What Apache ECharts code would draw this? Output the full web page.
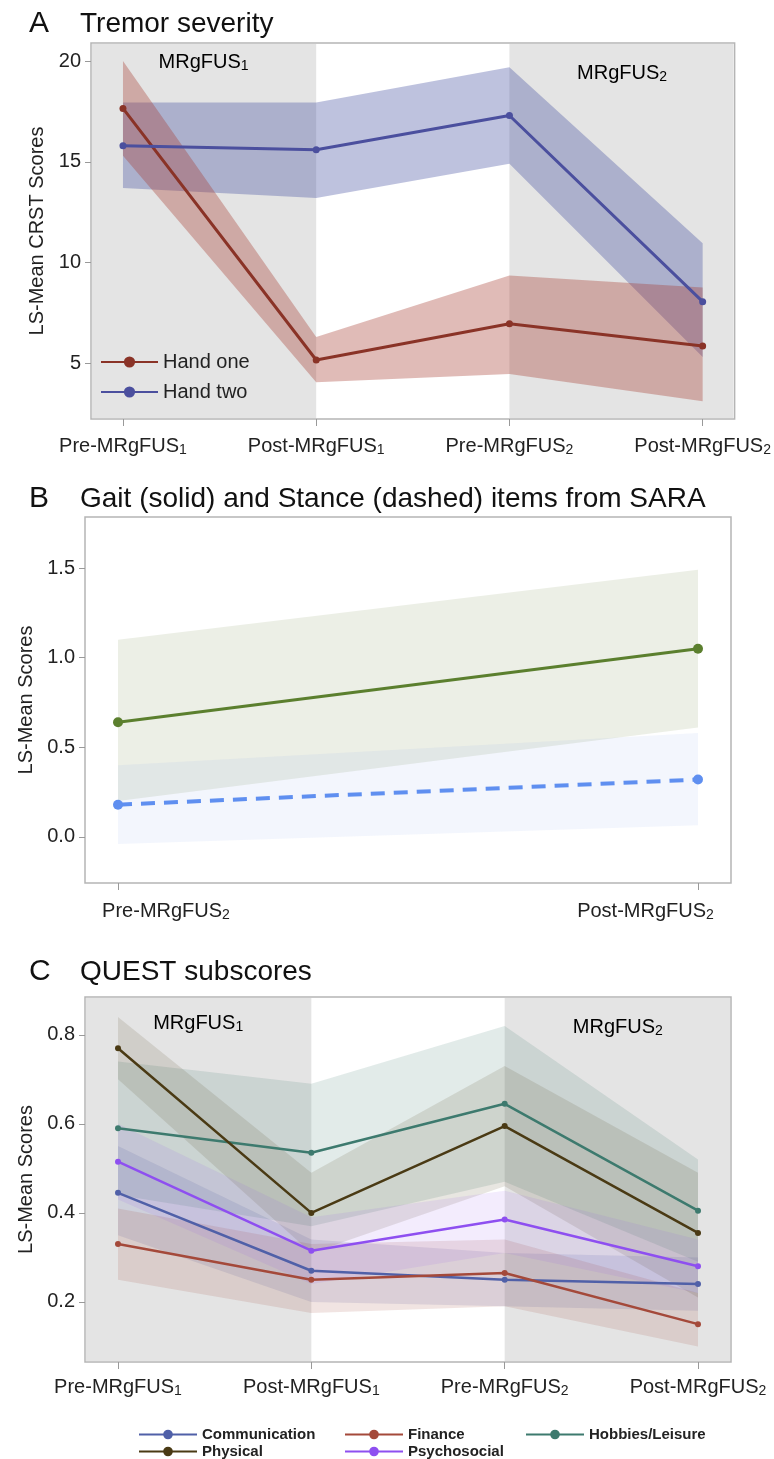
<!DOCTYPE html>
<html>
<head>
<meta charset="utf-8">
<script src="https://cdn.jsdelivr.net/npm/echarts@6/dist/echarts.min.js"></script>
<style>
  html, body { margin: 0; padding: 0; background: #fff; }
  #chart { width: 774px; height: 1459px; }
</style>
</head>
<body>
<div id="chart"></div>
<script>
// A - tremor severity
var timeBase = ["Pre-MRgFUS", "Post-MRgFUS", "Pre-MRgFUS", "Post-MRgFUS"];
var timeSub = ["1", "1", "2", "2"];
var handOne = [17.65, 5.15, 6.95, 5.85];
var handOneLow = [15.3, 4.05, 4.45, 3.1];
var handOneHigh = [20.0, 6.3, 9.35, 8.75];
var handTwo = [15.8, 15.6, 17.3, 8.05];
var handTwoLow = [13.7, 13.2, 14.9, 5.3];
var handTwoHigh = [17.95, 17.95, 19.7, 10.95];
var ticksA = [5, 10, 15, 20];

// B - gait / stance
var timeBaseB = ["Pre-MRgFUS", "Post-MRgFUS"];
var timeSubB = ["2", "2"];
var gait = [0.64, 1.05];
var gaitLow = [0.2, 0.61];
var gaitHigh = [1.1, 1.49];
var stance = [0.18, 0.32];
var stanceLow = [-0.04, 0.065];
var stanceHigh = [0.4, 0.58];
var ticksB = [0, 0.5, 1.0, 1.5];

// C - QUEST subscores
var questNames = ["Communication", "Finance", "Hobbies/Leisure", "Physical", "Psychosocial"];
var communication = [0.445, 0.27, 0.25, 0.24];
var communicationLow = [0.35, 0.2, 0.19, 0.18];
var communicationHigh = [0.55, 0.34, 0.31, 0.3];
var finance = [0.33, 0.25, 0.265, 0.15];
var financeLow = [0.25, 0.175, 0.19, 0.1];
var financeHigh = [0.41, 0.33, 0.34, 0.22];
var hobbies = [0.59, 0.535, 0.645, 0.405];
var hobbiesLow = [0.44, 0.37, 0.47, 0.29];
var hobbiesHigh = [0.74, 0.69, 0.82, 0.52];
var physical = [0.77, 0.4, 0.595, 0.355];
var physicalLow = [0.7, 0.31, 0.46, 0.21];
var physicalHigh = [0.84, 0.49, 0.73, 0.49];
var psychosocial = [0.515, 0.315, 0.385, 0.28];
var psychosocialLow = [0.43, 0.24, 0.31, 0.22];
var psychosocialHigh = [0.6, 0.39, 0.45, 0.34];
var ticksC = [0.2, 0.4, 0.6, 0.8];

var FONT = "'Liberation Sans', Arial, sans-serif";
var TXT = "#222";

var myChart = echarts.init(document.getElementById("chart"));

var subRich = {
  b: { fontSize: 20, fontFamily: FONT, color: TXT, lineHeight: 22 },
  s: { fontSize: 14, fontFamily: FONT, color: TXT, lineHeight: 14, verticalAlign: "bottom" },
  g: { width: 96, fontSize: 10 },
  h: { width: 105, fontSize: 10 }
};

function timeLabel(base, sub) {
  return "{b|" + base + "}{s|" + sub + "}";
}

// grey background blocks + MRgFUS labels
function shadeSeries(idx, left, right) {
  return {
    type: "custom",
    xAxisIndex: idx,
    yAxisIndex: idx,
    z: 0,
    silent: true,
    data: [[0, 0]],
    renderItem: function (params, api) {
      var cs = params.coordSys;
      var x1 = api.coord([1, 0])[0];
      var x2 = api.coord([2, 0])[0];
      var fill = "#e4e4e4";
      return {
        type: "group",
        children: [
          { type: "rect", shape: { x: cs.x + 1, y: cs.y + 1, width: x1 - cs.x - 1, height: cs.height - 2 }, style: { fill: fill } },
          { type: "rect", shape: { x: x2, y: cs.y + 1, width: cs.x + cs.width - x2 - 1, height: cs.height - 2 }, style: { fill: fill } },
          { type: "text", x: (cs.x + x1) / 2, y: cs.y + left, style: { text: timeLabel("MRgFUS", "1"), rich: subRich, align: "center", verticalAlign: "middle" } },
          { type: "text", x: (x2 + cs.x + cs.width) / 2, y: cs.y + right, style: { text: timeLabel("MRgFUS", "2"), rich: subRich, align: "center", verticalAlign: "middle" } }
        ]
      };
    }
  };
}

// confidence band as polygon
function bandSeries(idx, low, high, color, z) {
  return {
    type: "custom",
    xAxisIndex: idx,
    yAxisIndex: idx,
    z: z || 1,
    silent: true,
    data: [[0, 0]],
    renderItem: function (params, api) {
      var pts = [];
      for (var i = 0; i < high.length; i++) pts.push(api.coord([i, high[i]]));
      for (var j = low.length - 1; j >= 0; j--) pts.push(api.coord([j, low[j]]));
      return { type: "polygon", shape: { points: pts }, style: { fill: color } };
    }
  };
}

function lineSeries(idx, name, values, color, width, size, dashed) {
  return {
    type: "line",
    name: name,
    xAxisIndex: idx,
    yAxisIndex: idx,
    z: 3,
    data: values.map(function (v, i) { return [i, v]; }),
    symbol: "circle",
    symbolSize: size,
    animation: false,
    lineStyle: { color: color, width: width, type: dashed ? [14, 9] : "solid" },
    itemStyle: { color: color }
  };
}

function xAxisOf(idx, min, max, values, formatter, margin) {
  return {
    type: "value",
    gridIndex: idx,
    min: min,
    max: max,
    axisLine: { show: false, onZero: false },
    splitLine: { show: false },
    axisTick: { show: true, customValues: values, length: 7, lineStyle: { color: "#999" } },
    axisLabel: { customValues: values, formatter: formatter, rich: subRich, margin: margin, color: TXT }
  };
}

function yAxisOf(idx, min, max, values, name, gap, digits) {
  return {
    type: "value",
    gridIndex: idx,
    min: min,
    max: max,
    name: name,
    nameLocation: "middle",
    nameGap: gap,
    nameTextStyle: { fontSize: 20, fontFamily: FONT, color: TXT },
    axisLine: { show: false, onZero: false },
    splitLine: { show: false },
    axisTick: { show: true, customValues: values, length: 6, lineStyle: { color: "#999" } },
    axisLabel: {
      customValues: values,
      fontSize: 20,
      fontFamily: FONT,
      color: TXT,
      margin: 10,
      formatter: function (v) { return v.toFixed(digits); }
    }
  };
}

var gridStyle = { show: true, borderColor: "#b5b5b5", borderWidth: 1.5, backgroundColor: "#fff" };

var titles = [
  ["A", "Tremor severity", 9],
  ["B", "Gait (solid) and Stance (dashed) items from SARA", 484],
  ["C", "QUEST subscores", 957]
];
var titleOpts = [];
titles.forEach(function (t) {
  titleOpts.push({ text: t[0], left: 29, top: t[2], padding: 0, textStyle: { fontSize: 30, fontWeight: "normal", fontFamily: FONT, color: "#111" } });
  titleOpts.push({ text: t[1], left: 80, top: t[2] + 1, padding: 0, textStyle: { fontSize: 28, fontWeight: "normal", fontFamily: FONT, color: "#111" } });
});

var questColors = ["#5060a8", "#a4493a", "#3d7a6e", "#4a3a14", "#8e4ff0"];
var questBands = ["rgba(80,96,168,0.15)", "rgba(164,73,58,0.15)", "rgba(61,122,110,0.15)", "rgba(74,58,20,0.13)", "rgba(142,79,240,0.11)"];
var questVals = [communication, finance, hobbies, physical, psychosocial];
var questLow = [communicationLow, financeLow, hobbiesLow, physicalLow, psychosocialLow];
var questHigh = [communicationHigh, financeHigh, hobbiesHigh, physicalHigh, psychosocialHigh];
var legendPos = [[138, 1427], [344, 1427], [525, 1427], [138, 1444], [344, 1444]];

var series = [
  shadeSeries(0, 19, 30),
  bandSeries(0, handTwoLow, handTwoHigh, "rgba(70,80,160,0.35)", 1),
  bandSeries(0, handOneLow, handOneHigh, "rgba(165,60,50,0.35)", 2),
  lineSeries(0, "Hand one", handOne, "#8a3327", 3, 7),
  lineSeries(0, "Hand two", handTwo, "#4b4f9e", 3, 7),
  bandSeries(1, gaitLow, gaitHigh, "rgba(110,130,60,0.13)", 1),
  bandSeries(1, stanceLow, stanceHigh, "rgba(100,140,230,0.08)", 2),
  lineSeries(1, "Gait", gait, "#5b7f2e", 3, 10),
  lineSeries(1, "Stance", stance, "#5f8ff0", 4, 10, true),
  shadeSeries(2, 26, 30)
];
questNames.forEach(function (n, i) {
  series.push(bandSeries(2, questLow[i], questHigh[i], questBands[i], 1));
});
questNames.forEach(function (n, i) {
  series.push(lineSeries(2, n, questVals[i], questColors[i], 2.5, 6));
});

var legends = [{
  left: 100, top: 352, orient: "vertical", padding: 0, itemGap: 10,
  data: ["Hand one", "Hand two"], itemWidth: 57, itemHeight: 14,
  textStyle: { fontSize: 20, fontFamily: FONT, color: TXT }
}];
questNames.forEach(function (n, i) {
  legends.push({
    left: legendPos[i][0], top: legendPos[i][1], padding: 0, data: [n],
    itemWidth: 58, itemHeight: 12,
    textStyle: { fontSize: 15, fontWeight: "bold", fontFamily: FONT, color: TXT }
  });
});

var option = {
  animation: false,
  textStyle: { fontFamily: FONT },
  title: titleOpts,
  legend: legends,
  grid: [
    Object.assign({ left: 91, top: 43, width: 644, height: 376 }, gridStyle),
    Object.assign({ left: 85, top: 517, width: 646, height: 366 }, gridStyle),
    Object.assign({ left: 85, top: 997, width: 646, height: 365 }, gridStyle)
  ],
  xAxis: [
    xAxisOf(0, -0.1655, 3.1655, [0, 1, 2, 3], function (v) {
      var i = Math.round(v); return timeLabel(timeBase[i], timeSub[i]);
    }, 16),
    xAxisOf(1, -0.0569, 1.0569, [0, 1], function (v) {
      var i = Math.round(v);
      return i === 0 ? "{g| }" + timeLabel(timeBaseB[i], timeSubB[i]) : timeLabel(timeBaseB[i], timeSubB[i]) + "{h| }";
    }, 17),
    xAxisOf(2, -0.1707, 3.1707, [0, 1, 2, 3], function (v) {
      var i = Math.round(v); return timeLabel(timeBase[i], timeSub[i]);
    }, 14)
  ],
  yAxis: [
    yAxisOf(0, 2.22, 20.9, ticksA, "LS-Mean CRST Scores", 36, 0),
    yAxisOf(1, -0.257, 1.785, ticksB, "LS-Mean Scores", 25, 1),
    yAxisOf(2, 0.065, 0.885, ticksC, "LS-Mean Scores", 25, 1)
  ],
  series: series
};
myChart.setOption(option);
</script>
</body>
</html>
